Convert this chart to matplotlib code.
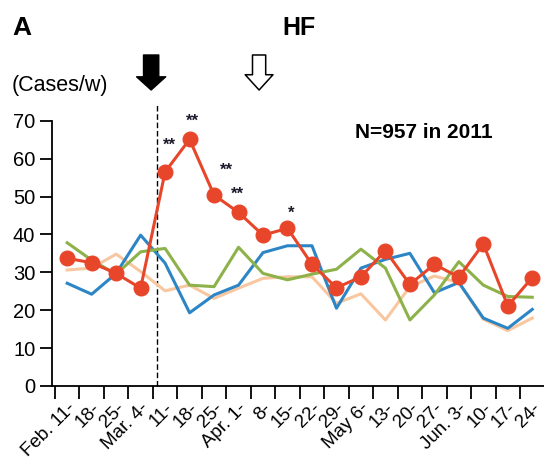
import matplotlib
matplotlib.use("Agg")
import matplotlib.pyplot as plt
import numpy as np

plt.rcParams['font.family'] = ['Liberation Sans', 'DejaVu Sans']

# weekly cases, Feb.11 - Jun.24
weeks = ['Feb. 11-', '18-', '25-', 'Mar. 4-', '11-', '18-', '25-', 'Apr. 1-', '8-', '15-',
         '22-', '29-', 'May 6-', '13-', '20-', '27-', 'Jun. 3-', '10-', '17-', '24-']
y2011 = [33.7, 32.5, 29.7, 25.8, 56.5, 65.1, 50.4, 45.8, 39.8, 41.6,
         32.1, 25.9, 28.8, 35.7, 26.8, 32.1, 28.7, 37.5, 21.1, 28.6]
blue = [27.1, 24.2, 29.7, 39.8, 32.4, 19.3, 24.0, 26.6, 35.2, 37.0,
        37.0, 20.5, 31.1, 33.4, 35.0, 24.6, 27.3, 17.9, 15.2, 20.2]
green = [37.8, 33.2, 29.5, 35.4, 36.3, 26.6, 26.2, 36.6, 29.7, 28.0,
         29.5, 30.8, 36.1, 31.1, 17.4, 24.0, 32.8, 26.6, 23.6, 23.4]
peach = [30.6, 31.1, 34.8, 30.2, 25.1, 26.6, 23.1, 25.8, 28.4, 28.8,
         28.8, 21.8, 24.3, 17.4, 26.2, 29.0, 27.3, 17.6, 14.6, 17.9]
sig_idx = [4, 5, 6, 7, 9]
sig_marks = ['**', '**', '**', '**', '*']
sig_offsets = [(3, 19), (2, 13), (9, 18), (-1, 13), (3, 11)]
event_x = 3.66      # dashed line
arrow_black_x = 3.43
arrow_open_x = 7.84

fig = plt.figure(figsize=(5.44, 4.70), dpi=100)
ax = fig.add_axes([0.0956, 0.179, 0.904, 0.564])

x = np.arange(len(weeks))
ax.plot(x, peach, color='#F8C7A0', lw=2.2, zorder=2)
ax.plot(x, blue, color='#2C86C6', lw=2.2, zorder=3)
ax.plot(x, green, color='#8DB24A', lw=2.2, zorder=3)
ax.plot(x, y2011, color='#E8462B', lw=2.2, marker='o', markersize=10.5, zorder=4)

for i, m, off in zip(sig_idx, sig_marks, sig_offsets):
    ax.annotate(m, (x[i], y2011[i]), xytext=off, textcoords='offset points',
                ha='center', va='center', fontsize=12, fontweight='bold', color='#1b1b2b')

ax.plot([event_x, event_x], [0, 74.7], color='black', lw=1, ls=(0, (4, 2)),
        clip_on=False, zorder=1)

ax.annotate('', xy=(arrow_black_x, 0.8085), xytext=(arrow_black_x, 0.883),
            xycoords=('data', 'figure fraction'), textcoords=('data', 'figure fraction'),
            arrowprops=dict(arrowstyle='simple,head_length=0.95,head_width=2.1,tail_width=1.1',
                            fc='black', ec='black', shrinkA=0, shrinkB=0),
            annotation_clip=False)
ax.annotate('', xy=(arrow_open_x, 0.8085), xytext=(arrow_open_x, 0.883),
            xycoords=('data', 'figure fraction'), textcoords=('data', 'figure fraction'),
            arrowprops=dict(arrowstyle='simple,head_length=1.1,head_width=2.0,tail_width=0.95',
                            fc='white', ec='black', lw=1.1, shrinkA=0, shrinkB=0),
            annotation_clip=False)

ax.text(14.55, 67.0, 'N=957 in 2011', ha='center', va='center', fontsize=15, fontweight='bold')

ax.set_xlim(-0.62, 19.47)
ax.set_ylim(0, 70)
ax.set_yticks(range(0, 71, 10))
ax.tick_params(axis='y', direction='out', length=9, width=1.3, labelsize=14.5, pad=3)
ax.set_xticks(x)
ax.set_xticklabels(weeks, rotation=45, ha='right', rotation_mode='anchor')
ax.tick_params(axis='x', which='major', length=0, labelsize=13.5, pad=10)
ax.set_xticks(x - 0.5, minor=True)
ax.tick_params(axis='x', which='minor', direction='out', length=9, width=1.3)

for s in ['top', 'right']:
    ax.spines[s].set_visible(False)
for s in ['left', 'bottom']:
    ax.spines[s].set_linewidth(1.3)

fig.text(0.022, 0.94, 'A', fontsize=19, fontweight='bold', va='center')
fig.text(0.55, 0.94, 'HF', fontsize=18, fontweight='bold', va='center', ha='center')
fig.text(0.022, 0.819, '(Cases/w)', fontsize=15.5, va='center')

fig.savefig('out.png', dpi=100)
